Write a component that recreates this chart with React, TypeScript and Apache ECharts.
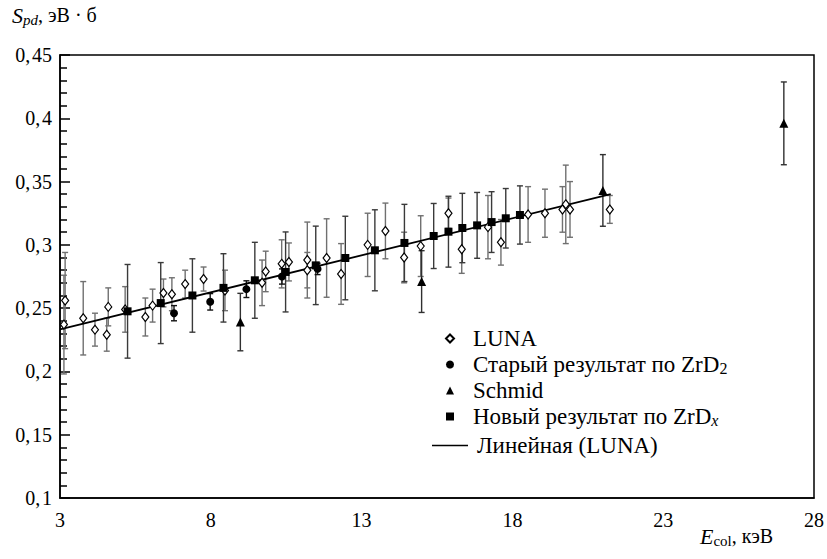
import React, { useEffect, useRef } from 'react';
import * as echarts from 'echarts';

// [E_col (keV), S_pd (eV·b), error]
const lunaData: number[][] = [
  [3.13, 0.237, 0.039], [3.17, 0.256, 0.038], [3.77, 0.242, 0.029], [4.16, 0.233, 0.013],
  [4.55, 0.229, 0.013], [4.6, 0.251, 0.015], [5.16, 0.249, 0.018], [5.83, 0.243, 0.015],
  [6.07, 0.252, 0.013], [6.43, 0.262, 0.011], [6.71, 0.261, 0.013], [7.15, 0.269, 0.011],
  [7.76, 0.273, 0.0095], [8.47, 0.264, 0.016], [9.7, 0.27, 0.018], [9.82, 0.279, 0.016],
  [10.35, 0.285, 0.019], [10.59, 0.2865, 0.015], [11.2, 0.288, 0.03], [11.2, 0.28, 0.014],
  [11.84, 0.2896, 0.031], [12.32, 0.277, 0.024], [13.2, 0.3, 0.025], [13.79, 0.311, 0.022],
  [14.41, 0.29, 0.02], [14.96, 0.299, 0.024], [15.88, 0.325, 0.012], [16.32, 0.2965, 0.019],
  [17.19, 0.314, 0.025], [17.62, 0.302, 0.018], [18.52, 0.324, 0.022], [19.08, 0.325, 0.019],
  [19.66, 0.328, 0.018], [19.77, 0.332, 0.031], [19.91, 0.328, 0.022], [21.23, 0.328, 0.011],
];
const oldZrD2Data: number[][] = [
  [6.78, 0.246, 0.006], [7.98, 0.255, 0.0065], [9.18, 0.265, 0.0066], [10.36, 0.275, 0.006],
  [11.54, 0.281, 0.0045],
];
const schmidData: number[][] = [
  [8.98, 0.239, 0.0227], [14.99, 0.271, 0.0244], [21.0, 0.343, 0.0283], [27.0, 0.396, 0.0327],
];
const newZrDxData: number[][] = [
  [5.24, 0.2475, 0.037], [6.34, 0.254, 0.032], [7.39, 0.26, 0.029], [8.42, 0.266, 0.027],
  [9.46, 0.272, 0.03], [10.48, 0.2786, 0.0316], [11.48, 0.2838, 0.031], [12.46, 0.2896, 0.033],
  [13.44, 0.2957, 0.032], [14.42, 0.3015, 0.0305], [15.39, 0.307, 0.0257], [15.88, 0.3104, 0.028],
  [16.34, 0.3133, 0.0274], [16.83, 0.3154, 0.026], [17.31, 0.318, 0.024], [17.78, 0.321, 0.0235],
  [18.25, 0.3236, 0.023],
];
const linearFit: number[][] = [[3, 0.2333], [21.26, 0.34]];

const xTicks = [3, 8, 13, 18, 23, 28];
const yTicks = [0.1, 0.15, 0.2, 0.25, 0.3, 0.35, 0.4, 0.45];

const FONT = 'Liberation Serif, DejaVu Serif, serif';

function errorSeries(data: number[][], color: string, z: number) {
  return {
    type: 'custom',
    data,
    z,
    silent: true,
    encode: { x: 0, y: 1 },
    renderItem: (_params: any, api: any) => {
      const x = api.value(0);
      const y = api.value(1);
      const e = api.value(2);
      const top = api.coord([x, y + e]);
      const bot = api.coord([x, y - e]);
      const hw = 3;
      const style = { stroke: color, lineWidth: 1.4 };
      return {
        type: 'group',
        children: [
          { type: 'line', shape: { x1: top[0], y1: top[1], x2: bot[0], y2: bot[1] }, style },
          { type: 'line', shape: { x1: top[0] - hw, y1: top[1], x2: top[0] + hw, y2: top[1] }, style },
          { type: 'line', shape: { x1: bot[0] - hw, y1: bot[1], x2: bot[0] + hw, y2: bot[1] }, style },
        ],
      };
    },
  };
}

function fmtY(v: number): string {
  const s = String(Math.round(v * 100) / 100);
  const parts = s.split('.');
  return parts.length > 1 ? parts[0] + ',\u200A' + parts[1] : parts[0];
}

const rich = {
  n: { fontFamily: FONT, fontSize: 23, lineHeight: 23, color: '#000' },
  s: { fontFamily: FONT, fontSize: 16, lineHeight: 12, verticalAlign: 'bottom', color: '#000' },
  si: { fontFamily: FONT, fontSize: 16, fontStyle: 'italic', lineHeight: 12, verticalAlign: 'bottom', color: '#000' },
};

function legendFmt(n: string): string {
  if (n === 'Старый результат по ZrD2') return '{n|Старый результат по ZrD}{s|2}';
  if (n === 'Новый результат по ZrDx') return '{n|Новый результат по ZrD}{si|x}';
  return '{n|' + n + '}';
}

export default function App() {
  const ref = useRef<HTMLDivElement>(null);
  useEffect(() => {
    const chart = echarts.init(ref.current!, null, { renderer: 'svg' });
    const markerNames = ['LUNA', 'Старый результат по ZrD2', 'Schmid', 'Новый результат по ZrDx'];
    const lineName = 'Линейная (LUNA)';
    const option: any = {
      animation: false,
      backgroundColor: '#fff',
      textStyle: { fontFamily: FONT },
      grid: {
        left: 60, top: 55, right: 13, bottom: 61,
        show: true, borderColor: '#000', borderWidth: 1.5, backgroundColor: 'transparent',
      },
      xAxis: {
        type: 'value', min: xTicks[0], max: xTicks[xTicks.length - 1], interval: 5,
        axisLine: { lineStyle: { color: '#000', width: 1.5 } },
        axisTick: { show: false },
        splitLine: { show: false },
        axisLabel: { color: '#000', fontFamily: FONT, fontSize: 20, margin: 12 },
      },
      yAxis: {
        type: 'value', min: yTicks[0], max: yTicks[yTicks.length - 1], interval: 0.05,
        axisLine: { show: true, lineStyle: { color: '#000', width: 1.5 } },
        axisTick: { show: true, inside: true, length: 10, lineStyle: { color: '#000', width: 1.5 } },
        minorTick: { show: true, splitNumber: 5, length: 7, lineStyle: { color: '#000', width: 1.5 } },
        splitLine: { show: false },
        axisLabel: { color: '#000', fontFamily: FONT, fontSize: 20, margin: 8, formatter: fmtY },
      },
      legend: [
        {
          orient: 'vertical', left: 440, top: 322,
          itemWidth: 8, itemHeight: 8, itemGap: 3,
          data: markerNames,
          formatter: legendFmt,
          textStyle: { color: '#000', fontFamily: FONT, fontSize: 23, padding: [0, 0, 0, 14], rich },
        },
        {
          orient: 'vertical', left: 427, top: 429,
          itemWidth: 36, itemHeight: 8, itemGap: 3,
          data: [{ name: lineName, icon: 'path://M0,0 L36,0 L36,1.6 L0,1.6 Z' }],
          formatter: legendFmt,
          textStyle: { color: '#000', fontFamily: FONT, fontSize: 23, padding: [0, 0, 0, 4], rich },
        },
      ],
      graphic: [
        {
          type: 'text', left: 12, top: 4,
          style: {
            text: '{i|S}{si|pd}{n|, эВ · б}',
            rich: {
              i: { fontFamily: FONT, fontSize: 22, fontStyle: 'italic', fill: '#000', lineHeight: 24 },
              si: { fontFamily: FONT, fontSize: 15, fontStyle: 'italic', fill: '#000', lineHeight: 14, verticalAlign: 'bottom' },
              n: { fontFamily: FONT, fontSize: 20, fill: '#000', lineHeight: 24 },
            },
          },
        },
        {
          type: 'text', left: 700, top: 525,
          style: {
            text: '{i|E}{s|col}{n|, кэВ}',
            rich: {
              i: { fontFamily: FONT, fontSize: 22, fontStyle: 'italic', fill: '#000', lineHeight: 24 },
              s: { fontFamily: FONT, fontSize: 15, fill: '#000', lineHeight: 14, verticalAlign: 'bottom' },
              n: { fontFamily: FONT, fontSize: 20, fill: '#000', lineHeight: 24 },
            },
          },
        },
      ],
      series: [
        errorSeries(lunaData, '#707070', 1),
        errorSeries(newZrDxData, '#3a3a3a', 1),
        errorSeries(schmidData, '#303030', 1),
        errorSeries(oldZrD2Data, '#111', 1),
        {
          name: lineName, type: 'line', data: linearFit, symbol: 'none', z: 3,
          lineStyle: { color: '#000', width: 1.8 }, itemStyle: { color: '#000' },
        },
        {
          name: 'LUNA', type: 'scatter', data: lunaData, symbol: 'diamond', symbolSize: [7, 9], z: 4,
          itemStyle: { color: '#fff', borderColor: '#000', borderWidth: 1.2, opacity: 1 },
        },
        {
          name: 'Старый результат по ZrD2', type: 'scatter', data: oldZrD2Data, symbol: 'circle', symbolSize: 8, z: 5,
          itemStyle: { color: '#000', opacity: 1 },
        },
        {
          name: 'Schmid', type: 'scatter', data: schmidData, symbol: 'triangle', symbolSize: 9, z: 5,
          itemStyle: { color: '#000', opacity: 1 },
        },
        {
          name: 'Новый результат по ZrDx', type: 'scatter', data: newZrDxData, symbol: 'rect', symbolSize: 8, z: 5,
          itemStyle: { color: '#000', opacity: 1 },
        },
      ],
    };
    chart.setOption(option);
    return () => chart.dispose();
  }, []);
  return <div ref={ref} style={{ position: 'fixed', left: 0, top: 0, width: 827, height: 559 }} />;
}
